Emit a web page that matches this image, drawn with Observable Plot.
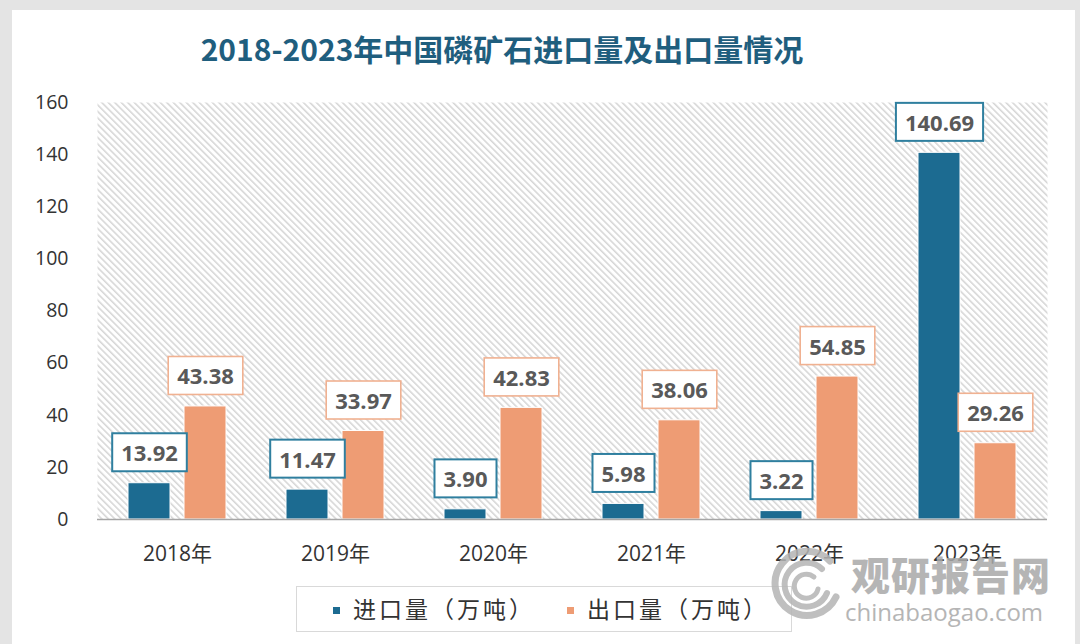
<!DOCTYPE html>
<html><head><meta charset="utf-8">
<script src="https://cdn.jsdelivr.net/npm/d3@7"></script>
<script src="https://cdn.jsdelivr.net/npm/@observablehq/plot@0.6"></script>
<style>
body{margin:0;width:1080px;height:644px;background:#e4e4e4;position:relative;overflow:hidden;font-family:"Open Sans","Noto Sans CJK SC",sans-serif;}
#card{position:absolute;left:12px;top:10px;width:1063px;height:640px;background:#fff;}
#title{position:absolute;left:502px;top:28px;transform:translateX(-50%);white-space:nowrap;font-family:"Noto Sans CJK SC",sans-serif;font-weight:700;font-size:30px;line-height:40px;color:#1f5e7e;}
#chart{position:absolute;left:0;top:80px;}
#legend{position:absolute;left:296px;top:586px;width:496px;height:46px;border:1px solid #d9d9d9;background:#fff;box-sizing:border-box;}
.li{position:absolute;top:-2px;height:46px;line-height:46px;font-family:"Noto Sans CJK SC",sans-serif;font-size:23px;letter-spacing:3px;color:#333;white-space:nowrap;}
.sw{display:inline-block;width:7px;height:7px;margin-right:13px;vertical-align:middle;position:relative;top:-1px;}
#wm{position:absolute;left:770px;top:545px;width:290px;height:80px;pointer-events:none;}
#wm .big{position:absolute;left:81px;top:5px;font-family:"Noto Sans CJK SC",sans-serif;font-weight:900;font-size:39px;line-height:46px;color:#a9a9a9;opacity:.85;letter-spacing:1px;}
#wm .small{position:absolute;left:75px;top:53px;font-family:"Open Sans",sans-serif;font-size:24px;line-height:28px;color:#a9a9a9;opacity:.85;}
</style></head>
<body>
<div id="card"></div>
<div id="title">2018-2023年中国磷矿石进口量及出口量情况</div>
<div id="chart"></div>
<div id="legend"></div>
<div id="wm">
<svg width="76" height="76" style="position:absolute;left:0;top:2px" viewBox="0 0 76 76">
<g fill="none" stroke="#b5b5b5" stroke-linecap="round" opacity=".85">
<path d="M60 14 A32 32 0 1 0 66 50" stroke-width="7"/>
<path d="M52 22 A22 22 0 1 0 57 46" stroke-width="6"/>
<path d="M44 30 A12 12 0 1 0 48 42" stroke-width="5"/>
</g></svg>
<div class="big">观研报告网</div>
<div class="small">chinabaogao.com</div>
</div>
<script>
const years = ["2018年","2019年","2020年","2021年","2022年","2023年"];
const importVals = [13.92, 11.47, 3.90, 5.98, 3.22, 140.69];
const exportVals = [43.38, 33.97, 42.83, 38.06, 54.85, 29.26];
const yTicks = [0, 20, 40, 60, 80, 100, 120, 140, 160];
const seriesNames = ["进口量（万吨）", "出口量（万吨）"];
const seriesColors = ["#1c6b91", "#ee9c74"];
const boxStrokes = ["#2f7f9f", "#f0b191"];

const imp = years.map((year, i) => ({year, value: importVals[i]}));
const exp = years.map((year, i) => ({year, value: exportVals[i]}));

const svg = Plot.plot({
  width: 1080, height: 500,
  marginTop: 22, marginBottom: 61, marginLeft: 97, marginRight: 33,
  x: {domain: years, padding: 0, label: null},
  y: {domain: [0, 160], label: null},
  style: {fontFamily: "'Open Sans','Noto Sans CJK SC',sans-serif", color: "#333", background: "transparent", overflow: "visible"},
  marks: [
    Plot.frame({fill: "url(#hatch)", stroke: "none"}),
    Plot.barY(imp, {x: "year", y: "value", fill: seriesColors[0], insetLeft: 58, insetRight: 58, dx: -28, stroke: "#fff", strokeWidth: 1}),
    Plot.barY(exp, {x: "year", y: "value", fill: seriesColors[1], insetLeft: 58, insetRight: 58, dx: 28, stroke: "#fff", strokeWidth: 1}),
    Plot.ruleY([0], {stroke: "#a6a6a6", strokeWidth: 1.5}),
    Plot.axisY({ticks: yTicks, tickSize: 0, tickPadding: 29, fontSize: 19.5, label: null}),
    Plot.axisX({tickSize: 0, tickPadding: 27, fontSize: 21, label: null}),
    Plot.text(imp, {x: "year", y: "value", text: d => d.value.toFixed(2), dx: -28, dy: -29, fontSize: 22, fontWeight: 700, fill: "#595959", className: "lbl0"}),
    Plot.text(exp, {x: "year", y: "value", text: d => d.value.toFixed(2), dx: 28, dy: -29, fontSize: 22, fontWeight: 700, fill: "#595959", className: "lbl1"})
  ]
});

const ns = "http://www.w3.org/2000/svg";
const defs = document.createElementNS(ns, "defs");
defs.innerHTML = '<pattern id="hatch" patternUnits="userSpaceOnUse" width="4.6" height="4.6" patternTransform="rotate(-45)"><rect width="4.6" height="4.6" fill="#ffffff"/><line x1="0.8" y1="0" x2="0.8" y2="4.6" stroke="#d2d2d2" stroke-width="1.4"/></pattern>';
svg.insertBefore(defs, svg.firstChild);
document.getElementById("chart").appendChild(svg);

[0, 1].forEach(k => {
  svg.querySelectorAll(`g.lbl${k} text`).forEach(t => {
    const b = t.getBBox();
    const r = document.createElementNS(ns, "rect");
    const w = b.width + 18, h = 38;
    r.setAttribute("x", b.x + b.width / 2 - w / 2);
    r.setAttribute("y", b.y + b.height / 2 - h / 2);
    r.setAttribute("width", w);
    r.setAttribute("height", h);
    r.setAttribute("fill", "#fff");
    r.setAttribute("stroke", boxStrokes[k]);
    r.setAttribute("stroke-width", k === 0 ? 2 : 1.6);
    const tr = t.getAttribute("transform");
    if (tr) r.setAttribute("transform", tr);
    t.parentNode.insertBefore(r, t);
  });
});

const legend = document.getElementById("legend");
const lx = [36, 270];
seriesNames.forEach((name, i) => {
  const d = document.createElement("div");
  d.className = "li";
  d.style.left = lx[i] + "px";
  d.innerHTML = `<span class="sw" style="background:${seriesColors[i]}"></span>${name}`;
  legend.appendChild(d);
});
</script>
</body></html>
